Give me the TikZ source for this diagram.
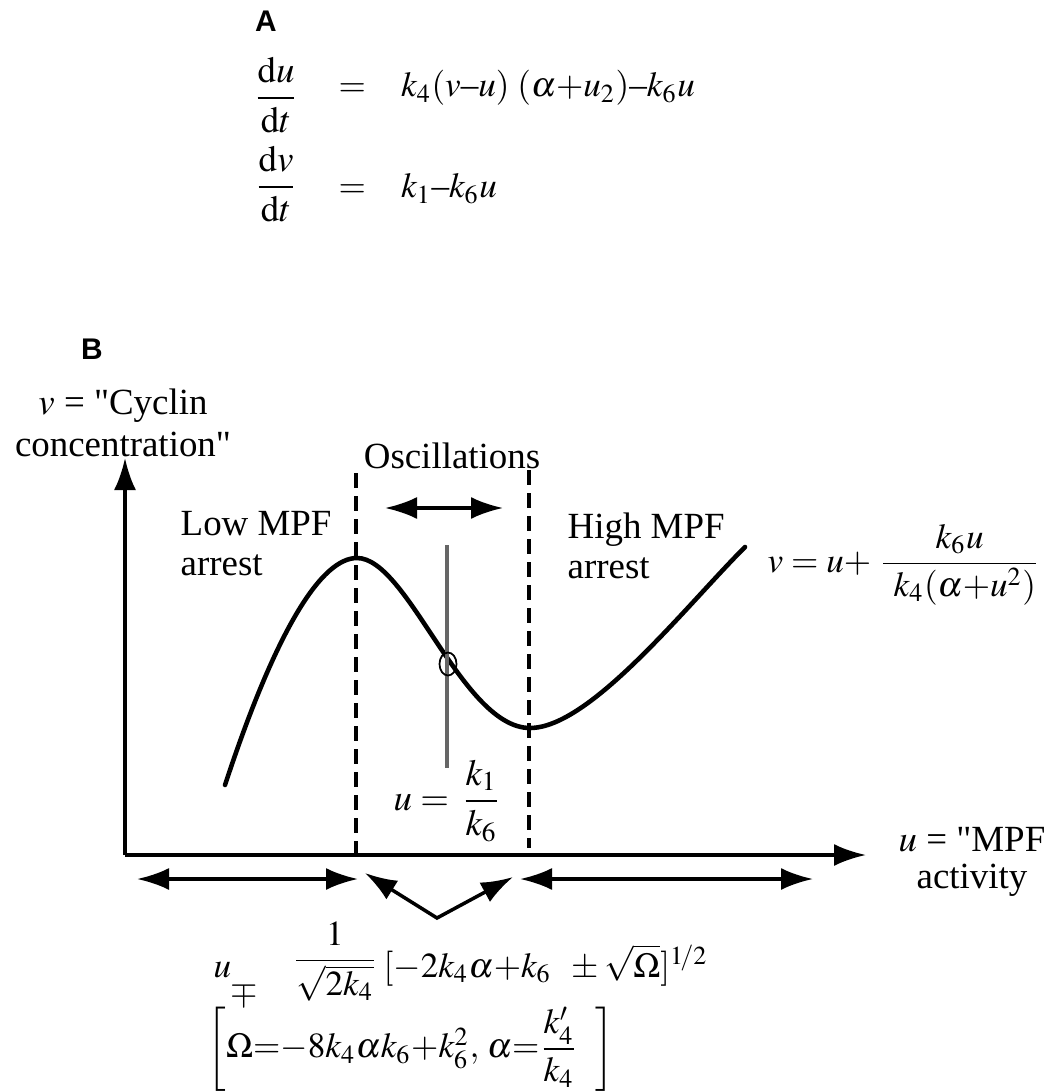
\documentclass[tikz,border=0pt]{standalone}
\usepackage{amsmath}
\usepackage{mathptmx}
\usepackage[no-math]{fontspec}
\setmainfont{Liberation Serif}
\newfontfamily\panelfont{Liberation Sans}
\usetikzlibrary{arrows.meta}
\newcommand{\dsh}{\text{\textendash}}

\begin{document}
\begin{tikzpicture}[x=0.1mm,y=-0.1mm,>={Latex[length=3.2mm,width=2.2mm]},
  lbl/.style={inner sep=0pt,font=\fontsize{10.5}{11.3}\selectfont},
  frm/.style={inner sep=0pt,font=\fontsize{10}{11}\selectfont},
  panel/.style={inner sep=0pt,font=\panelfont\bfseries\fontsize{8.5}{10}\selectfont},
  axis/.style={->,line width=1pt},
  guide/.style={dash pattern=on 1.5mm off 0.8mm,line width=0.9pt},
  bigarr/.style={<->,line width=1pt}]
\useasboundingbox (0,0) rectangle (1057,1091);
% panel A: the two rate equations
\node[panel] (A) at (266,21) {A};
\node[lbl] (dudt) at (276,95) {$\dfrac{\mathrm{d}u}{\mathrm{d}t}$};
\node[frm,anchor=base west] (rhsu) at (338,97) {${=}\quad k_4(v\dsh u)\;(\alpha{+}u_2)\dsh k_6u$};
\node[lbl] (dvdt) at (276,184) {$\dfrac{\mathrm{d}v}{\mathrm{d}t}$};
\node[frm,anchor=base west] (rhsv) at (338,198) {${=}\quad k_1\dsh k_6u$};
% panel B: phase plane
\node[panel] (B) at (92,349) {B};
\node[lbl,align=center,font=\fontsize{10.5}{11.9}\selectfont] (vlab) at (123,423) {$v$ = \textquotedbl Cyclin\\concentration\textquotedbl};
\coordinate (o) at (125,855);
\coordinate (ytip) at (125,458);
\coordinate (xtip) at (866,855);
\draw[axis] (o) -- (ytip);
\draw[axis] (o) -- (xtip);
\node[lbl,align=center,anchor=north,font=\fontsize{10.5}{10.5}\selectfont] (xlab) at (972,827) {$u$ = \textquotedbl MPF\\activity};
% cubic nullcline
\coordinate (pk) at (357,558);
\coordinate (mn) at (530,728);
\draw[line width=1.3pt,line cap=round] (225,785) .. controls (277,627) and (322,558) .. (pk)
  .. controls (408,558) and (462,728) .. (mn) .. controls (590,728) and (685,607) .. (745,547);
\draw[guide] (356,473) -- (356,855);
\draw[guide] (529,470) -- (529,848);
\node[lbl,anchor=base] (osc) at (452,468) {Oscillations};
\coordinate (oscL) at (385,508);
\coordinate (oscR) at (503,508);
\draw[bigarr] (oscL) -- (oscR);
\node[lbl,align=left,anchor=north west] (low) at (180,511) {Low MPF\\arrest};
\node[lbl,align=left,anchor=north west] (high) at (567,512) {High MPF\\arrest};
\node[frm,anchor=base west] (nullv) at (767,572) {$v\;{=}\;u{+}\;\dfrac{k_6u}{\hspace{3pt}k_4(\alpha{+}u^2)}$};
% v nullcline and steady state
\draw[black!60,line width=1pt] (447,545) -- (447,768);
\draw[line width=0.5pt] (448,664) ellipse [x radius=0.85mm,y radius=1.15mm];
\node[lbl,anchor=base west] (nullu) at (393,810) {$u\;{=}\;\,\dfrac{k_1}{k_6}$};
% ranges under the u axis
\coordinate (b1) at (137,879);
\coordinate (b2) at (358,879);
\coordinate (b3) at (520,879);
\coordinate (b4) at (813,879);
\draw[bigarr] (b1) -- (b2);
\draw[bigarr] (b3) -- (b4);
\coordinate (vl) at (365,873);
\coordinate (vv) at (437,918);
\coordinate (vr) at (513,877);
\draw[bigarr] (vl) -- (vv) -- (vr);
\node[frm,anchor=base west] (uroot) at (213,977) {$u$};
\node[frm] (mpsign) at (244,994) {$\mp$};
\node[frm,anchor=base] (pref) at (335,969) {$\dfrac{1}{\sqrt{2k_4}}$};
\node[frm,anchor=base west] (root) at (383,977) {$[{-}2k_4\alpha{+}k_6\;\;\pm\sqrt{\Omega}]^{1\!/2}$};
\node[frm,anchor=west] (omega) at (207,1049) {$\left[\Omega{=}{-}8k_4\alpha k_6{+}k_6^2,\,\alpha{=}\dfrac{k_4'}{k_4}\hspace{5pt}\right]$};
\end{tikzpicture}
\end{document}
